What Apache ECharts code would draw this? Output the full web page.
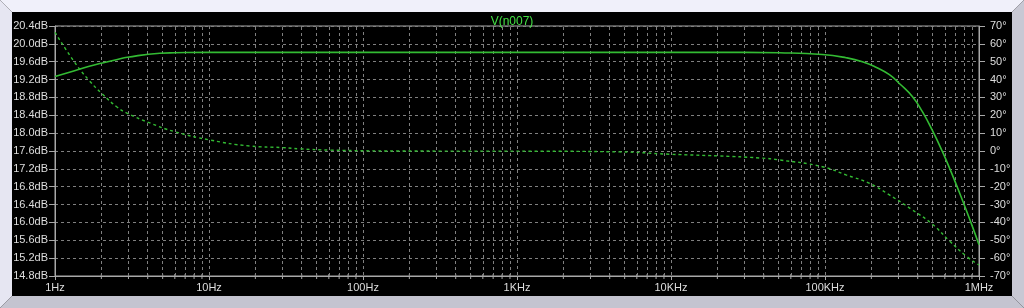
<!DOCTYPE html>
<html>
<head>
<meta charset="utf-8">
<script src="https://cdn.jsdelivr.net/npm/echarts@6/dist/echarts.min.js"></script>
<style>
html,body{margin:0;padding:0;background:#f0f0fa;}
#chart{width:1024px;height:308px;}
</style>
</head>
<body>
<div id="chart"></div>
<script>
// ---- data ----
var titleText = 'V(n007)';
var xTickLabels = ['1Hz', '10Hz', '100Hz', '1KHz', '10KHz', '100KHz', '1MHz'];
var decades = [1, 10, 100, 1000, 10000, 100000];
var minorMultipliers = [2, 3, 4, 5, 6, 7, 8, 9];

var magFreq = [1, 1.34, 1.67, 2.03, 2.54, 2.95, 4.8, 6, 10, 30, 100, 300, 1000, 3000, 10000, 30000, 50600, 96000, 137000, 175000, 216000, 262000, 309000, 369000, 429000, 498000, 578000, 661000, 764000, 888000, 1000000];
var magDb   = [19.27, 19.40, 19.50, 19.57, 19.65, 19.70, 19.79, 19.80, 19.81, 19.81, 19.81, 19.81, 19.81, 19.81, 19.81, 19.81, 19.80, 19.76, 19.69, 19.60, 19.47, 19.31, 19.09, 18.82, 18.48, 18.06, 17.59, 17.12, 16.58, 15.99, 15.50];

var phFreq = [1, 1.34, 1.67, 2.03, 2.54, 2.95, 4.13, 6.0, 10.1, 18.4, 30, 39, 61, 173, 1200, 4600, 9800, 20600, 37600, 50600, 96000, 137000, 193000, 262000, 369000, 498000, 642000, 824000, 1000000];
var phDeg  = [66.5, 49.7, 39.4, 31.9, 24.5, 21.1, 15.7, 10.8, 6.2, 2.8, 1.9, 1.2, 0.5, 0, -0.1, -0.5, -1.8, -2.8, -3.9, -5.0, -8.8, -13.4, -18, -24.6, -33, -41.0, -50.3, -58.8, -63.8];

var dbMin = 14.8, dbMax = 20.4, dbStep = 0.4;
var degMin = -70, degMax = 70, degStep = 10;

// ---- build ----
function zip(a, b) { return a.map(function (v, i) { return [v, b[i]]; }); }
var minorFreqs = [];
decades.forEach(function (d) { minorMultipliers.forEach(function (m) { minorFreqs.push(m * d); }); });
var vLines = minorFreqs.map(function (f) { return { xAxis: f }; });

var font = 'Liberation Sans';
var labelColor = '#dedede';
var axisColor = '#a8a8a8';
var gridColor = '#808080';
var green = '#33bb33';

var chart = echarts.init(document.getElementById('chart'), null, { renderer: 'canvas' });
chart.setOption({
  animation: false,
  backgroundColor: '#000000',
  title: {
    text: titleText, left: 'center', top: 11,
    textStyle: { color: '#44e044', fontSize: 12, fontWeight: 'normal', fontFamily: font }
  },
  graphic: [
    { type: 'polygon', silent: true, shape: { points: [[0,0],[1024,0],[1012,12],[12,12]] }, style: { fill: '#f0f0fa' } },
    { type: 'polygon', silent: true, shape: { points: [[0,0],[12,12],[12,296],[0,308]] }, style: { fill: '#e6e6f2' } },
    { type: 'polygon', silent: true, shape: { points: [[1024,0],[1024,308],[1012,296],[1012,12]] }, style: { fill: '#c8c8d4' } },
    { type: 'polygon', silent: true, shape: { points: [[0,308],[12,296],[1012,296],[1024,308]] }, style: { fill: '#c4c4d0' } }
  ],
  grid: {
    left: 55, right: 45, top: 26, bottom: 32,
    show: true, borderColor: axisColor, borderWidth: 1, backgroundColor: '#000000'
  },
  xAxis: {
    type: 'log', logBase: 10, min: 1, max: 1000000,
    axisLine: { show: true, onZero: false, lineStyle: { color: axisColor } },
    axisTick: { show: true, inside: false, length: 4, lineStyle: { color: axisColor } },
    axisLabel: {
      color: labelColor, fontFamily: font, fontSize: 11, margin: 6,
      formatter: function (v) { return xTickLabels[Math.round(Math.log10(v))]; }
    },
    splitLine: { show: true, lineStyle: { color: gridColor, type: [3, 3], width: 1 } }
  },
  yAxis: [
    {
      type: 'value', min: dbMin, max: dbMax, interval: dbStep, position: 'left',
      axisLine: { show: true, onZero: false, lineStyle: { color: axisColor } },
      axisTick: { show: true, length: 6, lineStyle: { color: axisColor } },
      axisLabel: {
        color: labelColor, fontFamily: font, fontSize: 11, margin: 7,
        formatter: function (v) { return v.toFixed(1) + 'dB'; }
      },
      splitLine: { show: true, lineStyle: { color: gridColor, type: [3, 3], width: 1 } }
    },
    {
      type: 'value', min: degMin, max: degMax, interval: degStep, position: 'right',
      axisLine: { show: true, onZero: false, lineStyle: { color: axisColor } },
      axisTick: { show: true, length: 6, lineStyle: { color: axisColor } },
      axisLabel: {
        color: labelColor, fontFamily: font, fontSize: 11, margin: 11,
        formatter: function (v) { return Math.round(v) + '°'; }
      },
      splitLine: { show: false }
    }
  ],
  series: [
    {
      name: 'grid', type: 'line', data: [[1, dbMin]], showSymbol: false, silent: true, z: 1,
      lineStyle: { opacity: 0 },
      markLine: {
        silent: true, symbol: ['none', 'none'], label: { show: false },
        lineStyle: { color: gridColor, type: [3, 3], width: 1 },
        data: vLines
      }
    },
    {
      name: 'minorTicks', type: 'custom', silent: true, clip: false, z: 1,
      data: minorFreqs.map(function (f) { return [f, dbMin]; }),
      renderItem: function (params, api) {
        var p = api.coord([api.value(0), api.value(1)]);
        return { type: 'line', shape: { x1: p[0], y1: p[1] - 2, x2: p[0], y2: p[1] + 3 },
                 style: { stroke: axisColor, lineWidth: 1 } };
      }
    },
    {
      name: 'V(n007) mag', type: 'line', yAxisIndex: 0, data: zip(magFreq, magDb),
      showSymbol: false, smooth: 0.5, z: 5,
      lineStyle: { color: green, width: 1.6 }
    },
    {
      name: 'V(n007) phase', type: 'line', yAxisIndex: 1, data: zip(phFreq, phDeg),
      showSymbol: false, smooth: 0.5, z: 5,
      lineStyle: { color: green, width: 1.4, type: [3, 3] }
    }
  ]
});
</script>
</body>
</html>
